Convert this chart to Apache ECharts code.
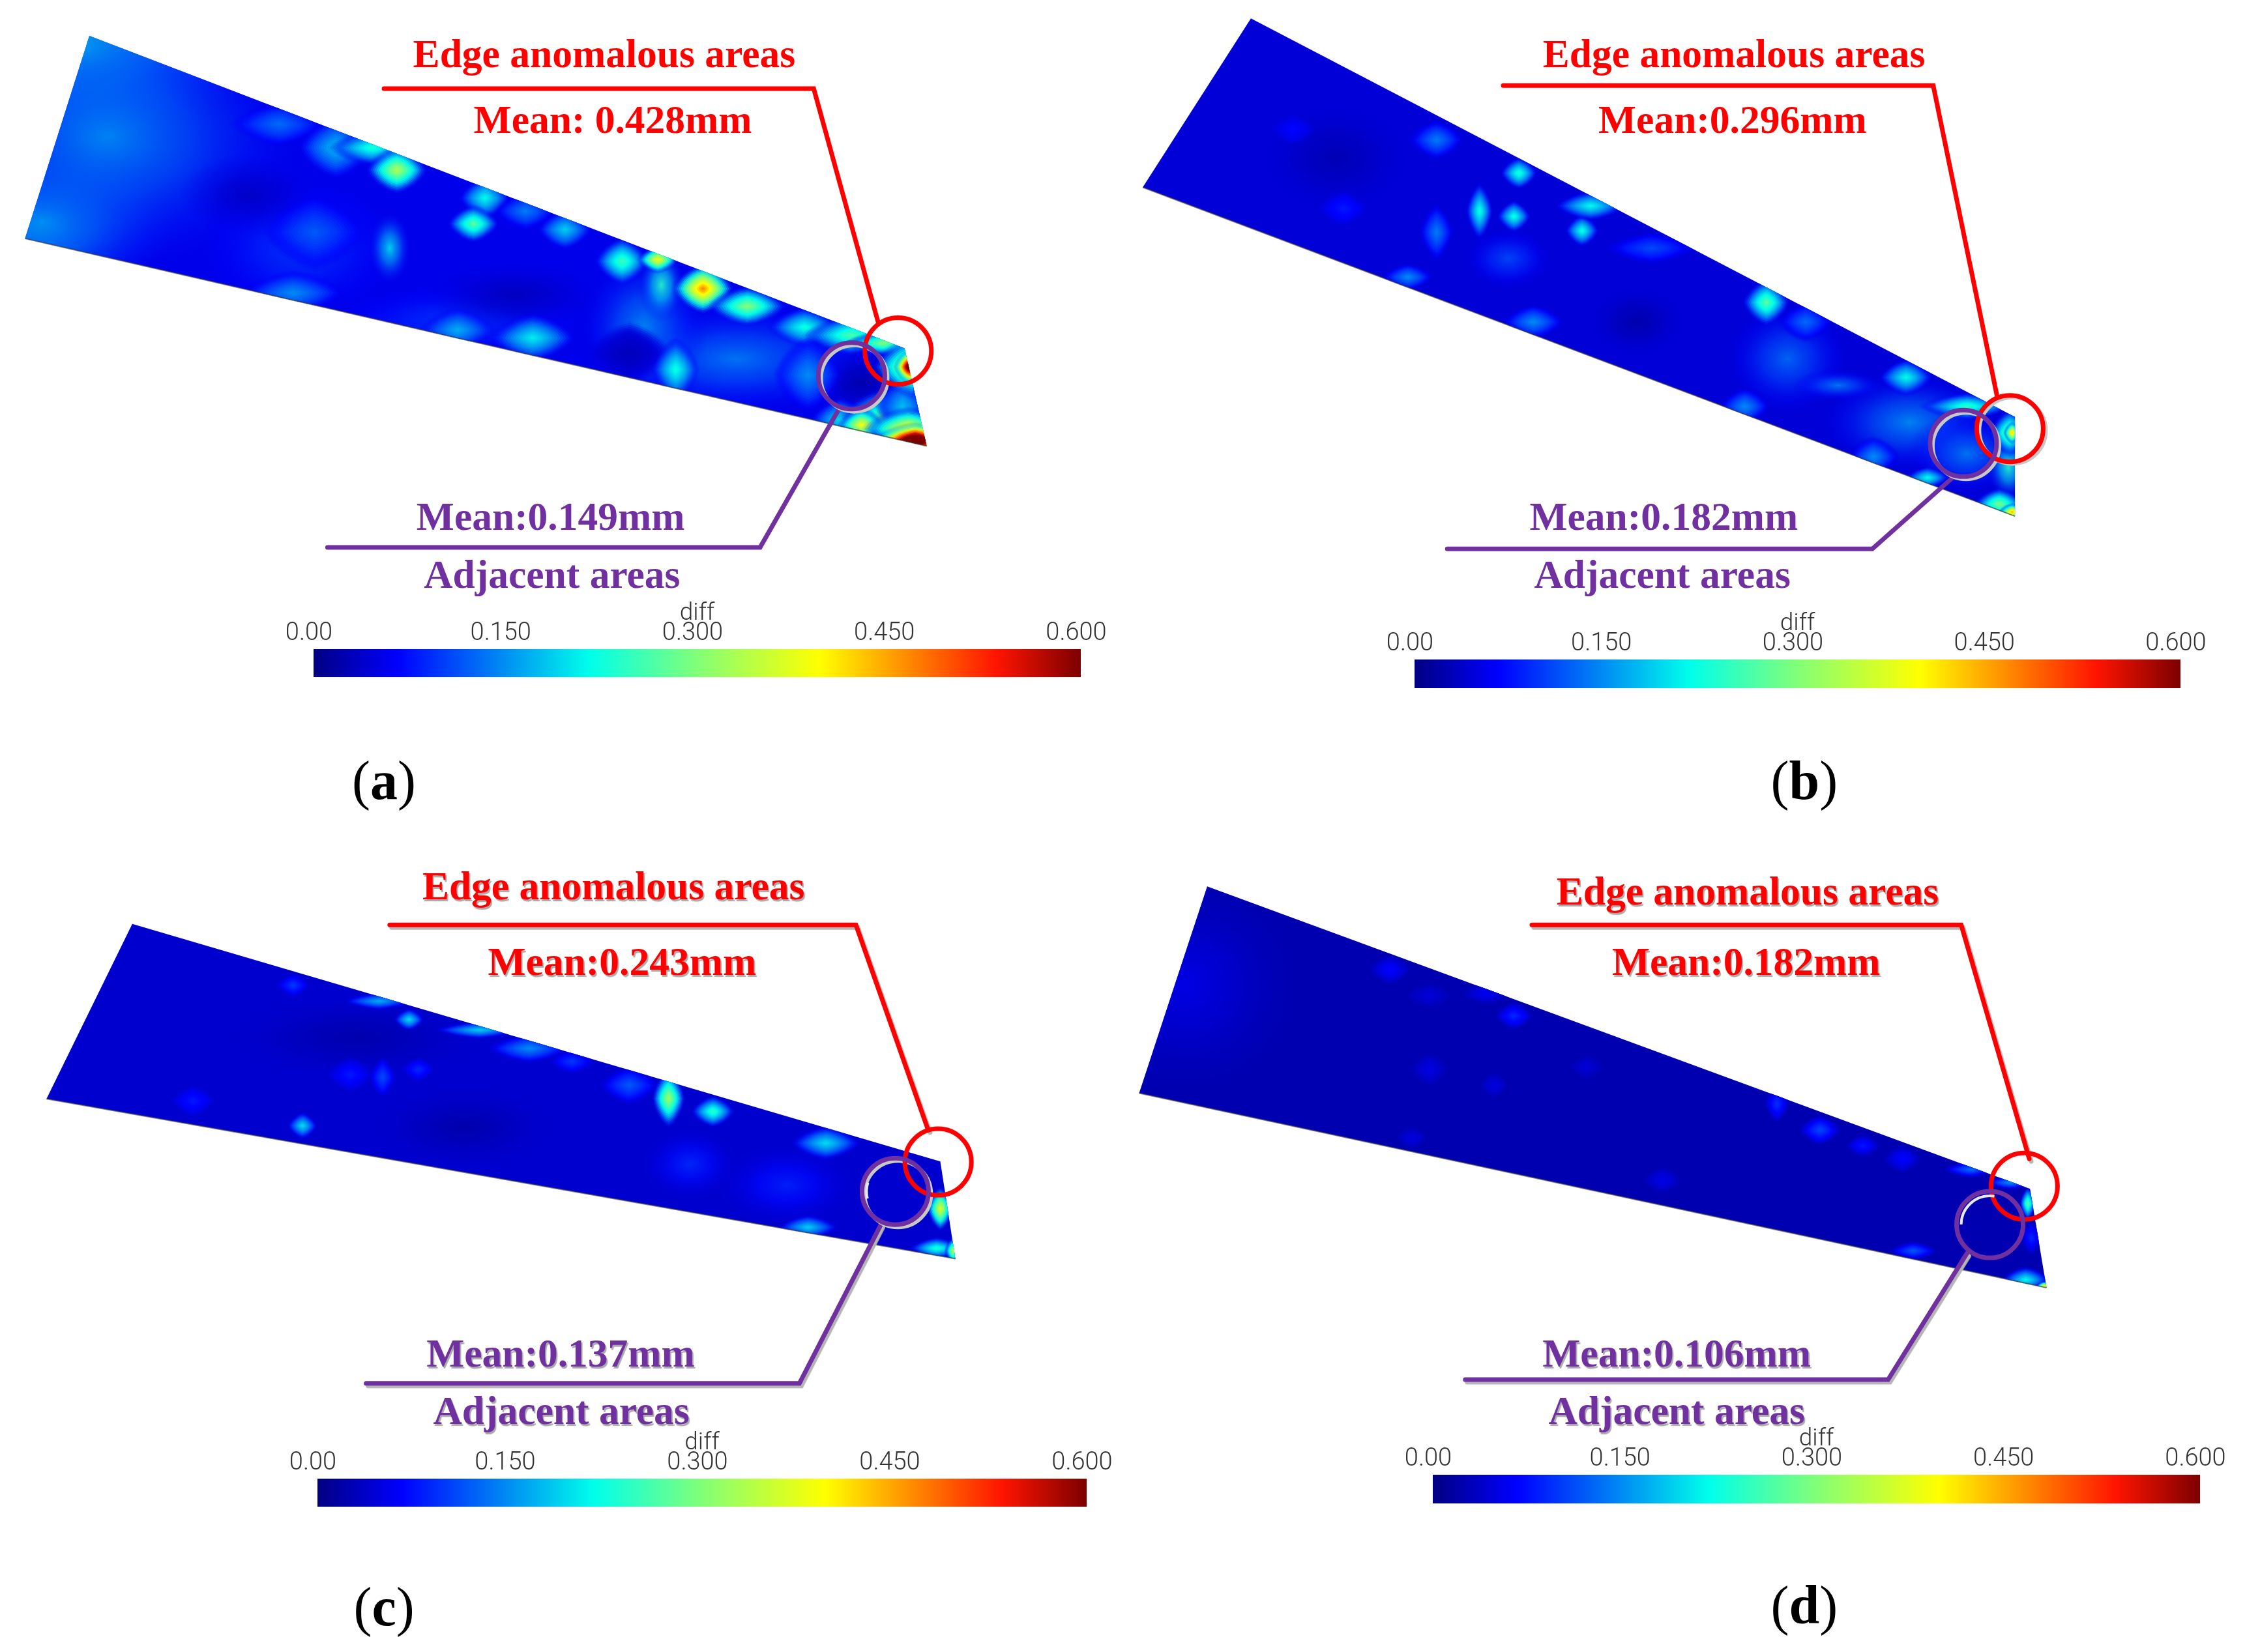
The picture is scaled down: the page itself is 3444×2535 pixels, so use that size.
<!DOCTYPE html>
<html>
<head>
<meta charset="utf-8">
<title>Edge anomalous areas</title>
<script src="https://cdn.jsdelivr.net/npm/echarts@6/dist/echarts.min.js"></script>
<style>
html, body { margin: 0; padding: 0; background: #fff; }
#main { width: 3444px; height: 2535px; }
</style>
</head>
<body>
<div id="main"></div>
<script>
// colour bar ticks
var barTicks = ['0.00', '0.150', '0.300', '0.450', '0.600'];
var barMax = 0.6;
var jetStops = [0, 0.11, 0.36, 0.5, 0.66, 0.89, 1];
var jetColors = [[0, 0, 130], [0, 0, 255], [0, 255, 235], [130, 255, 120], [255, 255, 0], [255, 20, 0], [125, 0, 0]];

var panelNames = ['a', 'b', 'c', 'd'];
var edgeMeans = ['Mean: 0.428mm', 'Mean:0.296mm', 'Mean:0.243mm', 'Mean:0.182mm'];
var adjacentMeans = ['Mean:0.149mm', 'Mean:0.182mm', 'Mean:0.137mm', 'Mean:0.106mm'];
var baseDiff = [0.055, 0.045, 0.04, 0.025];

// wedge outlines in panel units
var wedgeA = [[125, 68], [35, 452], [1296, 845], [1265, 660]];
var wedgeB = [[181, 35], [30, 355], [1247, 978], [1247, 790]];
var wedgeC = [[185, 183], [65, 516], [1336, 820], [1315, 635]];
var wedgeD = [[120, 112], [25, 505], [1291, 875], [1268, 687]];

// [x, y, diff, spread x, spread y]
var spotsA = [
  [110, 90, 0.22, 260, 190], [60, 420, 0.2, 190, 160], [150, 260, 0.15, 290, 270],
  [1030, 680, 0.14, 210, 110], [900, 620, 0.15, 90, 140], [420, 470, 0.1, 150, 140],
  [640, 610, 0.1, 190, 75], [1205, 725, 0.02, 80, 75], [720, 560, 0.03, 130, 70],
  [350, 370, 0.035, 100, 80], [880, 670, 0.03, 50, 50],
  [440, 440, 0.12, 60, 60], [545, 470, 0.2, 30, 70], [410, 555, 0.15, 60, 35],
  [390, 235, 0.13, 55, 35], [470, 280, 0.18, 45, 50], [520, 280, 0.24, 50, 28],
  [640, 625, 0.17, 45, 35], [745, 640, 0.21, 50, 38], [555, 322, 0.34, 36, 38],
  [678, 375, 0.22, 30, 34], [662, 424, 0.28, 30, 30], [735, 400, 0.14, 36, 30],
  [790, 435, 0.19, 32, 32], [870, 495, 0.26, 32, 38], [925, 540, 0.24, 32, 70],
  [920, 492, 0.4, 24, 22], [983, 547, 0.48, 36, 40], [1045, 580, 0.31, 46, 32],
  [945, 700, 0.23, 28, 50], [1125, 620, 0.23, 42, 32], [1190, 635, 0.27, 55, 32],
  [1235, 650, 0.31, 45, 20], [1130, 710, 0.15, 40, 60], [1175, 795, 0.2, 35, 35],
  [1235, 790, 0.28, 50, 45], [1205, 805, 0.4, 28, 28], [1262, 770, 0.18, 32, 50],
  [1275, 695, 0.36, 45, 50], [1272, 695, 0.72, 18, 28], [1270, 812, 0.4, 52, 34],
  [1280, 834, 0.8, 50, 28]
];
var spotsB = [
  [300, 300, 0.025, 110, 110], [720, 610, 0.02, 70, 70], [930, 680, 0.13, 90, 110],
  [1100, 800, 0.15, 130, 100], [1180, 860, 0.14, 85, 80], [540, 490, 0.11, 65, 60],
  [310, 395, 0.08, 30, 30], [240, 245, 0.07, 26, 26], [440, 265, 0.14, 32, 32],
  [440, 440, 0.14, 20, 46], [400, 525, 0.15, 30, 22], [575, 610, 0.15, 36, 28],
  [555, 328, 0.24, 22, 26], [500, 400, 0.23, 16, 46], [548, 410, 0.23, 20, 26],
  [643, 437, 0.23, 20, 26], [655, 390, 0.22, 42, 24], [740, 470, 0.11, 55, 26],
  [900, 573, 0.28, 28, 38], [955, 610, 0.13, 32, 32], [1095, 715, 0.22, 32, 30],
  [1000, 730, 0.14, 65, 30], [870, 770, 0.15, 30, 30], [1050, 865, 0.15, 30, 32],
  [1180, 770, 0.25, 55, 22], [1238, 885, 0.24, 30, 65], [1240, 820, 0.3, 24, 38],
  [1243, 820, 0.44, 10, 18], [1125, 905, 0.22, 26, 18], [1225, 955, 0.3, 30, 26],
  [1243, 970, 0.46, 16, 14]
];
var spotsC = [
  [500, 400, 0.02, 190, 80], [650, 570, 0.02, 130, 80], [965, 640, 0.09, 70, 70],
  [1100, 680, 0.085, 100, 80], [270, 520, 0.08, 28, 28], [410, 300, 0.1, 20, 20],
  [530, 330, 0.17, 42, 14], [572, 365, 0.2, 18, 18], [670, 385, 0.19, 52, 14],
  [740, 420, 0.15, 50, 24], [800, 445, 0.1, 28, 20], [880, 490, 0.12, 36, 32],
  [490, 470, 0.08, 28, 30], [535, 475, 0.11, 16, 34], [585, 460, 0.09, 20, 20],
  [423, 567, 0.2, 18, 22], [935, 515, 0.33, 20, 48], [997, 540, 0.25, 26, 26],
  [1155, 600, 0.2, 42, 28], [1130, 760, 0.19, 36, 20], [1315, 725, 0.38, 16, 36],
  [1310, 800, 0.24, 32, 18], [1333, 805, 0.34, 10, 22]
];
var spotsD = [
  [90, 300, 0.055, 170, 220], [375, 270, 0.07, 26, 26], [430, 320, 0.045, 30, 24],
  [510, 315, 0.06, 32, 20], [548, 358, 0.09, 24, 24], [650, 455, 0.045, 22, 22],
  [430, 460, 0.05, 24, 30], [520, 490, 0.05, 18, 24], [405, 590, 0.05, 20, 20],
  [755, 670, 0.055, 24, 24], [915, 525, 0.095, 16, 32], [975, 575, 0.11, 26, 26],
  [1035, 605, 0.08, 22, 20], [1090, 630, 0.07, 24, 24], [1185, 650, 0.13, 34, 14],
  [1240, 675, 0.15, 30, 12], [1105, 805, 0.12, 30, 16], [1265, 715, 0.28, 10, 28],
  [1270, 780, 0.09, 14, 30], [1262, 860, 0.22, 30, 22], [1288, 872, 0.42, 10, 8]
];

// leader lines in panel units
var redLeaderA = [[537, 168], [1138, 168], [1228, 610]];
var redLeaderB = [[533, 162], [1133, 162], [1222, 750]];
var redLeaderC = [[545, 185], [1197, 185], [1298, 575]];
var redLeaderD = [[573, 185], [1172, 185], [1267, 630]];
var purpleLeaderA = [[458, 1037], [1063, 1037], [1172, 778]];
var purpleLeaderB = [[455, 1040], [1048, 1040], [1160, 905]];
var purpleLeaderC = [[512, 1057], [1118, 1057], [1232, 755]];
var purpleLeaderD = [[480, 1050], [1070, 1050], [1180, 810]];

// circle centres
var redCircles = [[1256, 665], [1240, 812], [1312, 636], [1260, 682]];
var purpleCircles = [[1191, 712], [1175, 840], [1252, 692], [1212, 755]];

var wedges = [wedgeA, wedgeB, wedgeC, wedgeD];
var spots = [spotsA, spotsB, spotsC, spotsD];
var redLeaders = [redLeaderA, redLeaderB, redLeaderC, redLeaderD];
var purpleLeaders = [purpleLeaderA, purpleLeaderB, purpleLeaderC, purpleLeaderD];

// layout of each panel
var panelBox = [
  { left: 0, top: 0, width: 1720, height: 1270 },
  { left: 1720, top: 0, width: 1724, height: 1270 },
  { left: 0, top: 1270, width: 1720, height: 1265 },
  { left: 1720, top: 1270, width: 1724, height: 1265 }
];
var barBox = [
  { left: 481, top: 996, width: 1177, height: 43 },
  { left: 2170, top: 1012, width: 1175, height: 44 },
  { left: 487, top: 2269, width: 1180, height: 43 },
  { left: 2198, top: 2263, width: 1177, height: 44 }
];
var textPos = [
  { edge: [845, 107], edgeMean: [857, 232], adjMean: [770, 984], adj: [772, 1094], tag: [537, 1487] },
  { edge: [855, 107], edgeMean: [853, 232], adjMean: [757, 984], adj: [755, 1094], tag: [953, 1487] },
  { edge: [858, 117], edgeMean: [870, 260], adjMean: [784, 1005], adj: [785, 1114], tag: [537, 1490] },
  { edge: [874, 127], edgeMean: [872, 260], adjMean: [775, 1005], adj: [775, 1114], tag: [953, 1487] }
];
var hasShadow = [false, false, true, true];
var greyRing = [true, true, true, false];
var RED = '#ff0000', PURPLE = '#7030a0', GREY = '#c8c8c8';
var RING_SIZE = 102, RING_WIDTH = 7, TENT_LEVELS = 16, TENT_SCALE = 1.25, BROAD_SPREAD = 60;

function jet(v) {
  var t = Math.max(0, Math.min(1, v / barMax));
  for (var i = 1; i < jetStops.length; i++) {
    if (t <= jetStops[i]) {
      var f = (t - jetStops[i - 1]) / (jetStops[i] - jetStops[i - 1]);
      return jetColors[i - 1].map(function (c, k) {
        return Math.round(c + (jetColors[i][k] - c) * f);
      });
    }
  }
  return jetColors[jetColors.length - 1];
}
function rgba(c, a) {
  return 'rgba(' + c[0] + ',' + c[1] + ',' + c[2] + ',' + a + ')';
}

// rounded diamond around a point, the mesh peaks in the picture look like this
function tentOutline(c, rx, ry) {
  var pts = [], n = 24, p = 1.45;
  for (var i = 0; i < n; i++) {
    var a = i / n * Math.PI * 2;
    var ca = Math.cos(a), sa = Math.sin(a);
    var r = 1 / Math.pow(Math.pow(Math.abs(ca), p) + Math.pow(Math.abs(sa), p), 1 / p);
    pts.push([c[0] + ca * r * rx, c[1] + sa * r * ry]);
  }
  return pts;
}

var grids = [], xAxes = [], yAxes = [], series = [];

panelBox.forEach(function (box, p) {
  grids.push(box);
  xAxes.push({ gridIndex: p, type: 'value', min: 0, max: 1568, show: false });
  yAxes.push({ gridIndex: p, type: 'value', min: 0, max: 1568, inverse: true, show: false });
});

panelBox.forEach(function (box, p) {
  var corners = wedges[p];
  var base = baseDiff[p];

  function polyPoints(api) {
    return corners.map(function (c) { return api.coord(c); });
  }

  // wedge body
  series.push({
    type: 'custom', xAxisIndex: p, yAxisIndex: p, silent: true, z: 1,
    data: [corners[0]],
    renderItem: function (params, api) {
      return { type: 'polygon', shape: { points: polyPoints(api) }, style: { fill: rgba(jet(base), 1) } };
    }
  });

  // diff field, one patch per spot, cut to the wedge
  series.push({
    type: 'custom', xAxisIndex: p, yAxisIndex: p, silent: true, z: 2,
    data: spots[p],
    renderItem: function (params, api) {
      var c = api.coord([api.value(0), api.value(1)]);
      var v = api.value(2);
      var spreadX = api.value(3), spreadY = api.value(4);
      var rx = api.size([spreadX, 0])[0], ry = api.size([0, spreadY])[1];
      var mix = function (f) { return jet(base + (v - base) * f); };
      var children = [];
      if (Math.max(spreadX, spreadY) > BROAD_SPREAD) {
        children.push({
          type: 'circle',
          x: c[0], y: c[1], scaleX: rx / 100, scaleY: ry / 100,
          shape: { cx: 0, cy: 0, r: 100 },
          style: {
            fill: new echarts.graphic.RadialGradient(0.5, 0.5, 0.5, [
              { offset: 0, color: rgba(mix(1), 0.9) },
              { offset: 0.4, color: rgba(mix(0.65), 0.7) },
              { offset: 0.75, color: rgba(mix(0.3), 0.3) },
              { offset: 1, color: rgba(mix(0), 0) }
            ])
          }
        });
      } else {
        for (var i = 0; i < TENT_LEVELS; i++) {
          var f = 1 - i / TENT_LEVELS;
          var h = Math.pow(1 - f, 0.75);
          children.push({
            type: 'polygon',
            shape: { points: tentOutline(c, rx * f * TENT_SCALE, ry * f * TENT_SCALE) },
            style: { fill: rgba(mix(h), Math.min(1, 0.06 + h * 1.1)) }
          });
        }
      }
      return {
        type: 'group',
        clipPath: { type: 'polygon', shape: { points: polyPoints(api) } },
        children: children
      };
    }
  });

  // dark seam on the lower edge
  series.push({
    type: 'line', xAxisIndex: p, yAxisIndex: p, silent: true, z: 3, showSymbol: false,
    data: [corners[1], corners[2]],
    lineStyle: { color: '#3a3a3a', width: 2, opacity: 0.6 }
  });

  var shadow = hasShadow[p] ? { shadowColor: '#b5b5b5', shadowOffsetX: 3, shadowOffsetY: 4, shadowBlur: 1 } : {};

  series.push({
    type: 'line', xAxisIndex: p, yAxisIndex: p, silent: true, z: 4, showSymbol: false,
    data: redLeaders[p],
    lineStyle: Object.assign({ color: RED, width: 7, cap: 'round', join: 'miter' }, shadow)
  });
  series.push({
    type: 'line', xAxisIndex: p, yAxisIndex: p, silent: true, z: 4, showSymbol: false,
    data: purpleLeaders[p],
    lineStyle: Object.assign({ color: PURPLE, width: 7, cap: 'round', join: 'miter' }, shadow)
  });

  // ring markers
  if (greyRing[p]) {
    series.push({
      type: 'scatter', xAxisIndex: p, yAxisIndex: p, silent: true, z: 5,
      data: [purpleCircles[p]], symbolSize: RING_SIZE, symbolOffset: [4, 4],
      itemStyle: { color: 'rgba(0,0,0,0)', borderColor: GREY, borderWidth: 6, opacity: 1 }
    });
  }
  if (p === 1) {
    series.push({
      type: 'scatter', xAxisIndex: p, yAxisIndex: p, silent: true, z: 5,
      data: [redCircles[p]], symbolSize: RING_SIZE, symbolOffset: [4, 3],
      itemStyle: { color: 'rgba(0,0,0,0)', borderColor: GREY, borderWidth: 6, opacity: 1 }
    });
  }
  series.push({
    type: 'scatter', xAxisIndex: p, yAxisIndex: p, silent: true, z: 6,
    data: [redCircles[p]], symbolSize: RING_SIZE,
    itemStyle: { color: 'rgba(0,0,0,0)', borderColor: RED, borderWidth: RING_WIDTH, opacity: 1 }
  });
  series.push({
    type: 'scatter', xAxisIndex: p, yAxisIndex: p, silent: true, z: 7,
    data: [purpleCircles[p]], symbolSize: RING_SIZE,
    itemStyle: { color: 'rgba(0,0,0,0)', borderColor: PURPLE, borderWidth: RING_WIDTH, opacity: 1 }
  });
  if (p >= 2) {
    // white scratch inside the purple ring
    series.push({
      type: 'custom', xAxisIndex: p, yAxisIndex: p, silent: true, z: 7,
      data: [purpleCircles[p]],
      renderItem: function (params, api) {
        var c = api.coord([api.value(0), api.value(1)]);
        return {
          type: 'arc',
          shape: {
            cx: c[0], cy: c[1], r: 44,
            startAngle: p === 2 ? Math.PI * 0.92 : Math.PI * 1.0,
            endAngle: p === 2 ? Math.PI * 1.1 : Math.PI * 1.55
          },
          style: { fill: null, stroke: '#e8e8f0', lineWidth: 4 }
        };
      }
    });
  }

  // texts
  var pos = textPos[p];
  var texts = [
    [pos.edge, 'Edge anomalous areas', RED],
    [pos.edgeMean, edgeMeans[p], RED],
    [pos.adjMean, adjacentMeans[p], PURPLE],
    [pos.adj, 'Adjacent areas', PURPLE]
  ];
  series.push({
    type: 'custom', xAxisIndex: p, yAxisIndex: p, silent: true, z: 8,
    data: texts.map(function (t) { return t[0]; }),
    renderItem: function (params, api) {
      var t = texts[params.dataIndex];
      var c = api.coord([api.value(0), api.value(1)]);
      return {
        type: 'text', x: c[0], y: c[1],
        style: Object.assign({
          text: t[1], fill: t[2], align: 'center', verticalAlign: 'middle',
          font: 'bold 61.5px "Liberation Serif"'
        }, hasShadow[p] ? { textShadowColor: '#aaa', textShadowOffsetX: 2, textShadowOffsetY: 3, textShadowBlur: 1 } : {})
      };
    }
  });
  series.push({
    type: 'custom', xAxisIndex: p, yAxisIndex: p, silent: true, z: 8,
    data: [pos.tag],
    renderItem: function (params, api) {
      var c = api.coord([api.value(0), api.value(1)]);
      return {
        type: 'text', x: c[0], y: c[1],
        style: {
          text: '{p|(}{b|' + panelNames[p] + '}{p|)}', align: 'center', verticalAlign: 'middle',
          rich: {
            p: { font: '84px "Liberation Serif"', fill: '#000' },
            b: { font: 'bold 84px "Liberation Serif"', fill: '#000' }
          }
        }
      };
    }
  });
});

// colour bars
barBox.forEach(function (box, p) {
  var g = grids.length;
  grids.push(box);
  xAxes.push({
    gridIndex: g, type: 'value', position: 'top', min: 0, max: barMax, interval: 0.15,
    name: 'diff', nameLocation: 'middle', nameGap: 36, nameMoveOverlap: false,
    nameTextStyle: { fontFamily: 'Roboto', fontWeight: 300, fontSize: 37, color: '#333' },
    axisLine: { show: false }, axisTick: { show: false }, splitLine: { show: false },
    axisLabel: {
      margin: 5, fontFamily: 'Roboto', fontWeight: 300, fontSize: 38, color: '#333',
      padding: [0, 14, 0, 0], hideOverlap: false, showMinLabel: true, showMaxLabel: true,
      formatter: function (v) { return barTicks[Math.round(v / 0.15)]; }
    }
  });
  yAxes.push({ gridIndex: g, type: 'value', min: 0, max: 1, show: false });
  series.push({
    type: 'custom', xAxisIndex: g, yAxisIndex: g, silent: true, z: 2,
    data: [[0, 0]],
    renderItem: function (params, api) {
      var a = api.coord([0, 1]), b = api.coord([barMax, 0]);
      return {
        type: 'rect',
        shape: { x: a[0], y: a[1], width: b[0] - a[0], height: b[1] - a[1] },
        style: {
          fill: new echarts.graphic.LinearGradient(0, 0, 1, 0, jetStops.map(function (s, i) {
            return { offset: s, color: rgba(jetColors[i], 1) };
          }))
        }
      };
    }
  });
});

var myChart = echarts.init(document.getElementById('main'));
myChart.setOption({
  animation: false,
  backgroundColor: '#ffffff',
  grid: grids,
  xAxis: xAxes,
  yAxis: yAxes,
  series: series
});
</script>
</body>
</html>
